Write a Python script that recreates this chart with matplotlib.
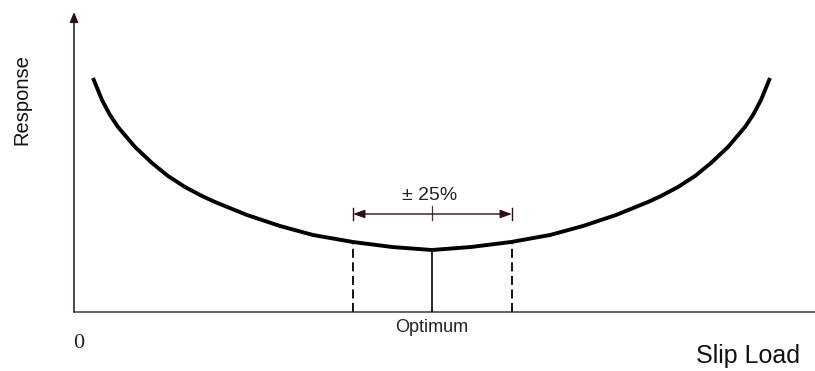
import matplotlib.pyplot as plt

# response curve vs slip load (schematic, arbitrary units)
slip_load = [19, 28, 36, 44, 61, 78, 94, 111, 128, 141, 173, 206, 239, 279, 318, 358,
             397, 437, 476, 509, 542, 574, 587, 604, 621, 637, 654, 671, 679, 687, 696]
response = [234, 212, 197, 185, 165, 149, 136, 125, 116, 110, 97, 86, 77, 70, 65, 62,
            65, 70, 77, 86, 97, 110, 116, 125, 136, 149, 165, 185, 197, 212, 234]

optimum = 358
band_low, band_high = 279, 438   # +/- 25% around optimum
band_label = '± 25%'

axis_col = '#3a3a3a'
arrow_col = '#2e0c18'

fig = plt.figure(figsize=(8.15, 3.71), dpi=100)
ax = fig.add_axes([74 / 815, 59 / 371, 741 / 815, 300 / 371])
ax.set_xlim(0, 741)
ax.set_ylim(0, 300)
ax.axis('off')

# axes
ax.plot([0, 741], [0, 0], color=axis_col, lw=1.1, clip_on=False)
ax.annotate('', xy=(0, 300), xytext=(0, 0),
            arrowprops=dict(arrowstyle='-|>,head_length=0.6,head_width=0.25',
                            color=arrow_col, lw=1.1, shrinkA=0, shrinkB=0),
            annotation_clip=False)

# curve
ax.plot(slip_load, response, color='black', lw=2.8, solid_joinstyle='round',
        solid_capstyle='butt')

# optimum and band limits
def curve_at(x):
    for i in range(len(slip_load) - 1):
        x0, x1 = slip_load[i], slip_load[i + 1]
        if x0 <= x <= x1:
            y0, y1 = response[i], response[i + 1]
            return y0 + (y1 - y0) * (x - x0) / (x1 - x0)
    return response[-1]

ax.plot([optimum, optimum], [0, curve_at(optimum)], color='black', lw=1.2)
for xb in (band_low, band_high):
    ax.plot([xb, xb], [0, curve_at(xb)], color='black', lw=1.3,
            linestyle=(0, (5, 2.5)))

# band arrow
y_arr = 98
ax.annotate('', xy=(band_high, y_arr), xytext=(band_low, y_arr),
            arrowprops=dict(arrowstyle='<|-|>,head_length=0.7,head_width=0.25',
                            color=arrow_col, lw=1.0, shrinkA=0, shrinkB=0))
for xb in (band_low, band_high):
    ax.plot([xb, xb], [y_arr - 6, y_arr + 6], color=arrow_col, lw=1.0)
ax.plot([optimum, optimum], [y_arr - 6, y_arr + 8], color=axis_col, lw=0.9)
ax.text(optimum - 2, 116, band_label, ha='center', va='center', fontsize=14,
        family='Liberation Sans', color='#222222')

# labels
ax.text(optimum, -15, 'Optimum', ha='center', va='center', fontsize=13,
        family='Liberation Sans', color='#222222', clip_on=False)
ax.text(5, -32, '0', ha='center', va='center', fontsize=16,
        family='Liberation Serif', color='#222222', clip_on=False)
ax.text(726, -51, 'Slip Load', ha='right', va='baseline', fontsize=18,
        family='Liberation Sans', color='#111111', clip_on=False)
ax.text(-52, 212, 'Response', ha='center', va='center', rotation=90,
        fontsize=14.5, family='Liberation Sans', color='#111111', clip_on=False)

fig.savefig('out.png', dpi=100)
